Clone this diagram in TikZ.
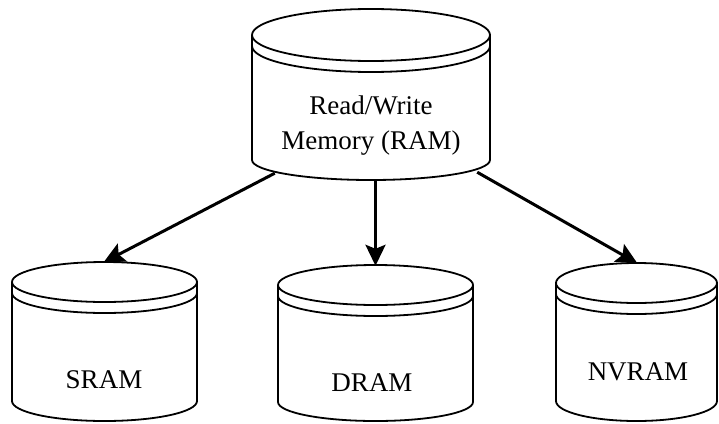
\documentclass[tikz,border=0pt]{standalone}
\usepackage{fontspec}
\setmainfont{Liberation Serif}
\usetikzlibrary{arrows.meta,calc}
\tikzset{
  cylline/.style={line width=1.8pt, line join=round},
  cylbox/.style={draw=none, inner sep=0pt},
  lbl/.style={font=\fontsize{27}{35}\selectfont, align=center, inner sep=0pt},
  conn/.style={line width=3pt, -{Stealth[length=21pt,width=20pt,inset=4pt]}, shorten >=-1pt}
}
% #1 name, #2 cx, #3 top y, #4 bottom y, #5 rx, #6 ry (top), #7 ry (bottom)
\newcommand\drumcyl[7]{%
  \node[cylbox, minimum width={2*#5 pt}, minimum height={(#4-#3)*1pt}] (#1) at (#2,{(#3+#4)/2}) {};
  \draw[cylline] (#2,{#3+#6}) ellipse [x radius=#5 pt, y radius=#6 pt];
  \draw[cylline] ({#2-#5},{#3+#6+11}) arc [start angle=180, end angle=360, x radius=#5 pt, y radius=#6 pt];
  \draw[cylline] ({#2-#5},{#3+#6}) -- ({#2-#5},{#4-#7})
     arc [start angle=180, end angle=360, x radius=#5 pt, y radius=#7 pt]
     -- ({#2+#5},{#3+#6});
}
\begin{document}
\begin{tikzpicture}[x=1pt,y=-1pt]
  \useasboundingbox (0,0) rectangle (719,423);
  \drumcyl{ram}{371}{9}{180}{119}{26}{20}
  \drumcyl{sram}{104.5}{262}{421}{92.5}{20}{20}
  \drumcyl{dram}{375.5}{265}{421}{97.5}{20}{19}
  \drumcyl{nvram}{636.5}{263}{421}{80.5}{20}{20}
  \node[lbl] (ramtxt) at (371,126) {Read/Write\\Memory (RAM)};
  \node[lbl] (sramtxt) at (104,380) {SRAM};
  \node[lbl] (dramtxt) at (372,383) {DRAM};
  \node[lbl] (nvramtxt) at (638,372) {NVRAM};
  \coordinate (ramL) at ($(ram.south west)+(23,-7)$);
  \coordinate (ramR) at ($(ram.south east)+(-13,-8)$);
  \draw[conn] (ramL) -- (sram.north);
  \draw[conn] (dram.north |- ram.south) -- (dram.north);
  \draw[conn] (ramR) -- (nvram.north);
\end{tikzpicture}
\end{document}
